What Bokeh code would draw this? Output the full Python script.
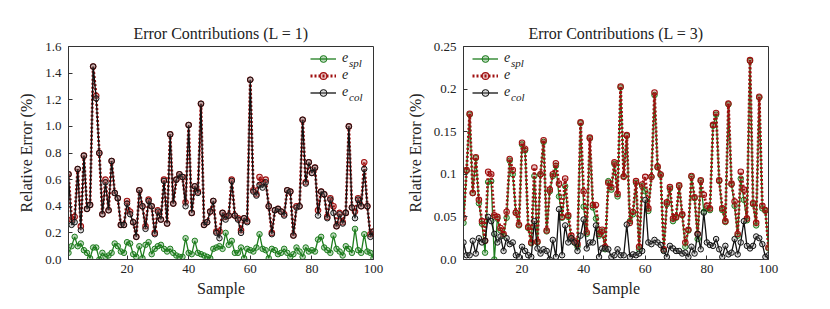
from bokeh.plotting import figure
from bokeh.layouts import row
from bokeh.models import Range1d, FixedTicker, Legend, LegendItem, Label
from bokeh.embed import file_html
from bokeh.resources import INLINE

samples = list(range(1, 101))

# ---- Panel L = 1 ----
l1_e_spl = [0.05, 0.10, 0.17, 0.10, 0.12, 0.07, 0.05, 0.01, 0.09, 0.09,
            0.00, 0.05, 0.02, 0.03, 0.05, 0.12, 0.10, 0.06, 0.05, 0.13,
            0.12, 0.04, 0.02, 0.10, 0.01, 0.11, 0.13, 0.04, 0.08, 0.10,
            0.11, 0.08, 0.06, 0.08, 0.05, 0.03, 0.02, 0.02, 0.16, 0.05,
            0.04, 0.14, 0.05, 0.04, 0.03, 0.02, 0.01, 0.08, 0.09, 0.10,
            0.08, 0.20, 0.11, 0.14, 0.05, 0.05, 0.09, 0.01, 0.08, 0.07,
            0.06, 0.09, 0.19, 0.08, 0.07, 0.01, 0.08, 0.07, 0.04, 0.05,
            0.08, 0.05, 0.02, 0.04, 0.09, 0.06, 0.02, 0.09, 0.06, 0.07,
            0.06, 0.15, 0.17, 0.09, 0.07, 0.05, 0.18, 0.08, 0.06, 0.03,
            0.10, 0.08, 0.05, 0.23, 0.07, 0.05, 0.19, 0.06, 0.05, 0.01]
l1_e = [0.64, 0.30, 0.32, 0.68, 0.25, 0.78, 0.38, 0.41, 1.45, 1.23,
        0.80, 0.34, 0.60, 0.37, 0.74, 0.50, 0.46, 0.26, 0.26, 0.44,
        0.36, 0.28, 0.17, 0.52, 0.40, 0.25, 0.45, 0.40, 0.20, 0.37,
        0.30, 0.60, 0.27, 0.94, 0.42, 0.60, 0.64, 0.62, 0.43, 1.01,
        0.35, 0.55, 0.51, 1.17, 0.26, 0.28, 0.36, 0.44, 0.21, 0.21,
        0.35, 0.32, 0.33, 0.60, 0.33, 0.31, 0.22, 0.31, 0.29, 1.35,
        0.52, 0.49, 0.62, 0.58, 0.60, 0.40, 0.20, 0.37, 0.38, 0.36,
        0.34, 0.52, 0.51, 0.18, 0.40, 0.40, 1.05, 0.58, 0.73, 0.65,
        0.69, 0.37, 0.51, 0.49, 0.32, 0.46, 0.40, 0.25, 0.35, 0.28,
        0.35, 1.00, 0.39, 0.36, 0.46, 0.40, 0.73, 0.40, 0.19, 0.21]
l1_e_col = [0.64, 0.26, 0.28, 0.68, 0.22, 0.78, 0.38, 0.41, 1.45, 1.21,
            0.80, 0.34, 0.58, 0.37, 0.74, 0.50, 0.46, 0.26, 0.26, 0.42,
            0.34, 0.28, 0.17, 0.52, 0.40, 0.23, 0.44, 0.40, 0.19, 0.36,
            0.30, 0.59, 0.27, 0.94, 0.42, 0.60, 0.64, 0.62, 0.40, 1.01,
            0.35, 0.55, 0.50, 1.17, 0.26, 0.28, 0.36, 0.44, 0.20, 0.16,
            0.35, 0.30, 0.33, 0.59, 0.33, 0.30, 0.20, 0.31, 0.28, 1.35,
            0.51, 0.48, 0.56, 0.54, 0.58, 0.40, 0.19, 0.37, 0.38, 0.36,
            0.33, 0.52, 0.51, 0.18, 0.39, 0.40, 1.05, 0.57, 0.73, 0.65,
            0.69, 0.33, 0.51, 0.49, 0.31, 0.45, 0.35, 0.25, 0.34, 0.27,
            0.35, 1.00, 0.39, 0.31, 0.45, 0.40, 0.68, 0.40, 0.17, 0.21]

# ---- Panel L = 3 ----
l3_e_spl = [0.043, 0.104, 0.170, 0.078, 0.119, 0.066, 0.042, 0.008, 0.091, 0.092,
            0.000, 0.048, 0.034, 0.028, 0.049, 0.116, 0.100, 0.055, 0.040, 0.135,
            0.128, 0.037, 0.019, 0.098, 0.020, 0.100, 0.138, 0.033, 0.080, 0.098,
            0.110, 0.074, 0.049, 0.086, 0.050, 0.025, 0.020, 0.015, 0.160, 0.062,
            0.030, 0.142, 0.061, 0.048, 0.028, 0.033, 0.012, 0.092, 0.082, 0.112,
            0.074, 0.202, 0.098, 0.145, 0.045, 0.053, 0.090, 0.012, 0.086, 0.080,
            0.057, 0.097, 0.193, 0.108, 0.099, 0.011, 0.065, 0.083, 0.045, 0.049,
            0.086, 0.052, 0.015, 0.034, 0.097, 0.072, 0.024, 0.092, 0.056, 0.060,
            0.058, 0.157, 0.170, 0.092, 0.058, 0.044, 0.182, 0.088, 0.063, 0.028,
            0.095, 0.070, 0.046, 0.233, 0.065, 0.040, 0.190, 0.060, 0.057, 0.013]
l3_e = [0.049, 0.105, 0.171, 0.078, 0.120, 0.070, 0.045, 0.022, 0.103, 0.100,
        0.052, 0.050, 0.037, 0.030, 0.056, 0.118, 0.105, 0.055, 0.041, 0.137,
        0.130, 0.038, 0.020, 0.108, 0.021, 0.100, 0.140, 0.034, 0.082, 0.100,
        0.113, 0.089, 0.050, 0.095, 0.052, 0.028, 0.022, 0.018, 0.161, 0.080,
        0.032, 0.143, 0.064, 0.064, 0.030, 0.035, 0.015, 0.090, 0.085, 0.114,
        0.077, 0.203, 0.097, 0.146, 0.043, 0.056, 0.092, 0.015, 0.088, 0.097,
        0.060, 0.097, 0.196, 0.109, 0.100, 0.012, 0.067, 0.085, 0.048, 0.050,
        0.087, 0.053, 0.020, 0.035, 0.098, 0.073, 0.030, 0.093, 0.076, 0.063,
        0.060, 0.158, 0.172, 0.093, 0.060, 0.045, 0.183, 0.089, 0.068, 0.030,
        0.103, 0.082, 0.048, 0.234, 0.066, 0.043, 0.191, 0.063, 0.058, 0.014]
l3_e_col = [0.020, 0.005, 0.005, 0.022, 0.007, 0.025, 0.020, 0.022, 0.050, 0.045,
            0.030, 0.020, 0.027, 0.010, 0.025, 0.018, 0.020, 0.005, 0.003, 0.015,
            0.010, 0.005, 0.003, 0.045, 0.013, 0.007, 0.012, 0.010, 0.000, 0.023,
            0.003, 0.059, 0.005, 0.040, 0.020, 0.025, 0.020, 0.010, 0.028, 0.047,
            0.013, 0.020, 0.020, 0.040, 0.003, 0.013, 0.013, 0.012, 0.003, 0.005,
            0.012, 0.005, 0.005, 0.041, 0.003, 0.006, 0.005, 0.007, 0.010, 0.070,
            0.020, 0.018, 0.023, 0.020, 0.017, 0.010, 0.003, 0.016, 0.013, 0.010,
            0.010, 0.007, 0.008, 0.003, 0.015, 0.007, 0.030, 0.012, 0.055, 0.020,
            0.017, 0.016, 0.024, 0.012, 0.003, 0.016, 0.006, 0.008, 0.024, 0.006,
            0.020, 0.045, 0.016, 0.013, 0.016, 0.027, 0.025, 0.018, 0.003, 0.005]

x_ticks = [20, 40, 60, 80, 100]
l1_y_ticks = [0.0, 0.2, 0.4, 0.6, 0.8, 1.0, 1.2, 1.4, 1.6]
l1_y_tick_labels = ["0.0", "0.2", "0.4", "0.6", "0.8", "1.0", "1.2", "1.4", "1.6"]
l3_y_ticks = [0.0, 0.05, 0.1, 0.15, 0.2, 0.25]
l3_y_tick_labels = ["0.0", "0.05", "0.1", "0.15", "0.2", "0.25"]

titles = ["Error Contributions (L = 1)", "Error Contributions (L = 3)"]
legend_labels = ["e", "e", "e"]
legend_subs = ["spl", "", "col"]

SERIF = "Liberation Serif"
TXT = "#222222"
GREEN = "#1e7d1e"
RED = "#a01010"
BLACK = "#111111"


def make_panel(title, e_spl, e, e_col, ymax, yticks, ylabels, left_b, right_b, leg_x):
    p = figure(frame_width=305, frame_height=213, output_backend="svg", toolbar_location=None,
               x_range=Range1d(1, 100), y_range=Range1d(0, ymax),
               min_border_left=left_b, min_border_right=right_b,
               min_border_top=46, min_border_bottom=42)
    p.title.text = title
    p.title.align = "center"
    p.title.text_font = SERIF
    p.title.text_font_size = "16px"
    p.title.text_font_style = "normal"
    p.title.text_color = TXT
    p.title.standoff = 10

    p.xgrid.grid_line_color = None
    p.ygrid.grid_line_color = None
    p.outline_line_color = "#333333"
    p.outline_line_width = 1
    p.background_fill_color = "white"
    p.border_fill_color = "white"

    for ax in (p.xaxis[0], p.yaxis[0]):
        ax.axis_line_color = "#333333"
        ax.major_tick_in = 4
        ax.major_tick_out = 0
        ax.minor_tick_line_color = None
        ax.major_tick_line_color = "#333333"
        ax.major_label_text_font = SERIF
        ax.major_label_text_font_size = "13px"
        ax.major_label_text_color = TXT
        ax.axis_label_text_font = SERIF
        ax.axis_label_text_font_size = "16px"
        ax.axis_label_text_font_style = "normal"
        ax.axis_label_text_color = TXT
    p.yaxis.major_label_standoff = 7
    p.yaxis.axis_label_standoff = 7
    p.xaxis.major_label_standoff = 5
    p.xaxis.axis_label_standoff = 4

    p.xaxis.ticker = FixedTicker(ticks=x_ticks)
    p.yaxis.ticker = FixedTicker(ticks=yticks)
    p.yaxis.major_label_overrides = {t: lab for t, lab in zip(yticks, ylabels)}
    p.xaxis.axis_label = "Sample"
    p.yaxis.axis_label = "Relative Error (%)"

    r1l = p.line(samples, e_spl, line_color=GREEN, line_width=1.3)
    r1s = p.scatter(samples, e_spl, marker="circle", size=5.5, line_color=GREEN,
                    fill_color=GREEN, fill_alpha=0.3, line_width=1)
    r2l = p.line(samples, e, line_color=RED, line_width=2.8, line_dash="2 2")
    r2s = p.scatter(samples, e, marker="circle", size=5.5, line_color=RED,
                    fill_color=RED, fill_alpha=0.25, line_width=1.1)
    r3l = p.line(samples, e_col, line_color=BLACK, line_width=1.3)
    r3s = p.scatter(samples, e_col, marker="circle", size=5.5, line_color=BLACK,
                    fill_color="#888888", fill_alpha=0.3, line_width=1)

    items = [LegendItem(label=legend_labels[0], renderers=[r1l, r1s]),
             LegendItem(label=legend_labels[1], renderers=[r2l, r2s]),
             LegendItem(label=legend_labels[2], renderers=[r3l, r3s])]
    top = 209.5
    row_h = 17
    leg_h = 3 * row_h
    leg = Legend(items=items, location=(leg_x, top - leg_h), orientation="vertical",
                 glyph_width=26, glyph_height=row_h, label_height=row_h, label_width=10,
                 spacing=0, padding=0, margin=0, label_standoff=6,
                 border_line_color=None, background_fill_alpha=0.0,
                 label_text_font=SERIF, label_text_font_style="italic",
                 label_text_font_size="14px", label_text_color=TXT)
    p.add_layout(leg)
    for i, sub in enumerate(legend_subs):
        if sub:
            p.add_layout(Label(x=leg_x + 38.5, y=top - row_h / 2 - row_h * i - 4,
                               x_units="screen", y_units="screen", text=sub, text_font=SERIF,
                               text_font_style="italic", text_font_size="11px",
                               text_color=TXT, text_baseline="middle"))
    return p


p1 = make_panel(titles[0], l1_e_spl, l1_e, l1_e_col, 1.6, l1_y_ticks,
                l1_y_tick_labels, 68, 30, 242)
p2 = make_panel(titles[1], l3_e_spl, l3_e, l3_e_col, 0.25, l3_y_ticks,
                l3_y_tick_labels, 56, 40, 9)

layout = row(p1, p2)
open("out.html", "w").write(file_html(layout, INLINE))
